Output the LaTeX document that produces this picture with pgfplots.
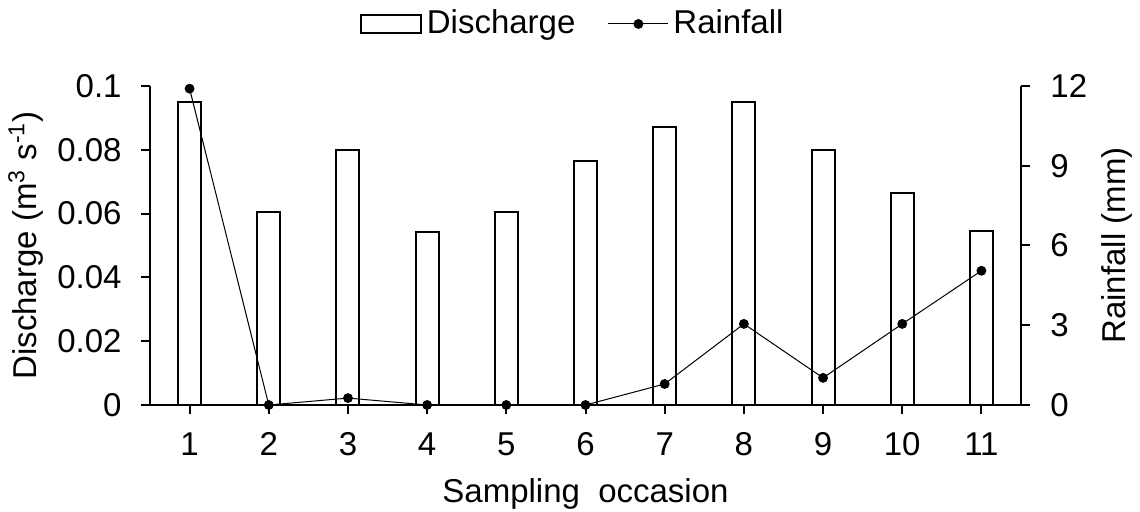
\documentclass[border=0pt]{standalone}
\usepackage{fontspec}
\setmainfont{Liberation Sans}
\usepackage{pgfplots}
\pgfplotsset{compat=1.18}
\begin{document}
\fontsize{16.5}{19.8}\selectfont
\begin{tikzpicture}
\begin{axis}[
  at={(0,0)}, anchor=south west,
  scale only axis, width=435.5pt, height=159.5pt,
  xmin=0.5, xmax=11.5, ymin=0, ymax=0.1,
  axis x line*=bottom, axis y line*=left,
  axis line style={line width=1pt,-},
  xtick={1,...,11}, ytick={0,0.02,0.04,0.06,0.08,0.1},
  yticklabels={0,0.02,0.04,0.06,0.08,0.1},
  scaled y ticks=false,
  tick align=outside, major tick length=4.5pt,
  tick style={line width=1pt,black},
  /pgf/number format/assume math mode=true,
  yticklabel style={anchor=east, inner sep=0pt, xshift=-9.5pt},
  xticklabel style={anchor=base, inner sep=0pt, yshift=-21pt},
  xlabel={Sampling\ \ occasion},
  ylabel={Discharge (m\textsuperscript{3} s\textsuperscript{-1})},
  xlabel style={at={(rel axis cs:0.5,0)}, anchor=base, yshift=-49pt, inner sep=0pt},
  ylabel style={at={(rel axis cs:0,0.5)}, anchor=base, yshift=56.5pt, inner sep=0pt},
  ybar, bar width=0.29,
]
\addplot[draw=black, fill=white, line width=1pt] coordinates {
(1,0.0951) (2,0.0604) (3,0.0798) (4,0.0543) (5,0.0604) (6,0.0766)
(7,0.0872) (8,0.0950) (9,0.0798) (10,0.0665) (11,0.0545)};
\end{axis}
\begin{axis}[
  at={(0,0)}, anchor=south west,
  scale only axis, width=435.5pt, height=159.5pt,
  xmin=0.5, xmax=11.5, ymin=0, ymax=12,
  axis x line=none, axis y line*=right,
  axis line style={line width=1pt,-},
  ytick={0,3,6,9,12},
  tick align=outside, major tick length=4.5pt,
  tick style={line width=1pt,black},
  /pgf/number format/assume math mode=true,
  yticklabel style={anchor=west, inner sep=0pt, xshift=10pt},
  ylabel={Rainfall (mm)},
  ylabel style={at={(rel axis cs:1,0.5)}, anchor=base, yshift=-52pt, inner sep=0pt},
  clip=false,
  legend style={at={(rel axis cs:0.487,1)}, anchor=center, yshift=31pt,
    draw=none, fill=none, legend columns=2,
    /tikz/every even column/.append style={column sep=14pt},
    nodes={inner sep=2.25pt}},
]
\addlegendimage{legend image code/.code={\draw[line width=1pt,black,fill=white] (0pt,-4.5pt) rectangle (30pt,4.5pt);}}
\addlegendentry{Discharge}
\addplot[black, line width=0.5pt, mark=*, mark size=2.2pt,
  legend image code/.code={\draw[line width=0.5pt,black] (0pt,0pt) -- (30pt,0pt); \fill[black] (15pt,0pt) circle (2.2pt);}]
 coordinates {
(1,11.9) (2,0) (3,0.26) (4,0) (5,0) (6,0) (7,0.79) (8,3.05) (9,1.02) (10,3.05) (11,5.05)};
\addlegendentry{Rainfall}
\end{axis}
\path[use as bounding box] (-75pt,-53.5pt) rectangle (495pt,202.5pt);
\end{tikzpicture}
\end{document}
